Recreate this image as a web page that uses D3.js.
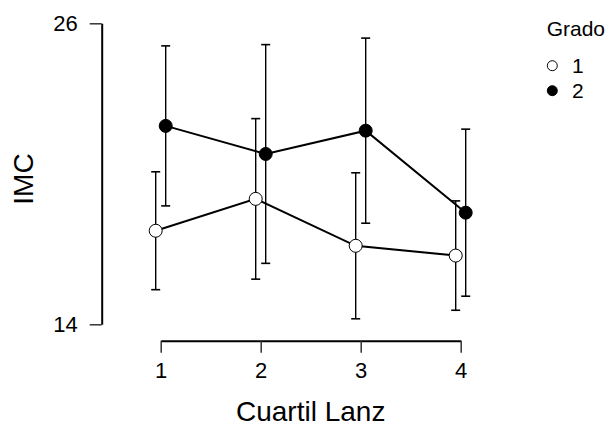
<!DOCTYPE html>
<html>
<head>
<meta charset="utf-8">
<script src="https://cdn.jsdelivr.net/npm/d3@7"></script>
<style>
  body { margin: 0; background: #fff; }
  svg { font-family: "Liberation Sans", Arial, sans-serif; }
</style>
</head>
<body>
<div id="chart"></div>
<script>
const width = 615
const height = 429

// data
const cuartiles = [1, 2, 3, 4]
const grados = ["1", "2"]
const grado1Mean = [17.73, 19.0, 17.13, 16.74]
const grado1Err = [2.35, 3.2, 2.91, 2.18]
const grado2Mean = [21.91, 20.79, 21.72, 18.45]
const grado2Err = [3.19, 4.36, 3.69, 3.33]
const yTicks = [14, 26]

const series = [
    { grado: grados[0], mean: grado1Mean, err: grado1Err, fill: "white", dodge: -5 },
    { grado: grados[1], mean: grado2Mean, err: grado2Err, fill: "black", dodge: 5 }
]

const svg = d3.select("div#chart").append("svg").attr("width", width).attr("height", height)

const x = d3.scaleLinear().domain([1, 4]).range([160.7, 460.7])
const y = d3.scaleLinear().domain([14, 26]).range([324.3, 23.3])

// axes
const yAxisGroup = svg.append("g").attr("transform", "translate(101.7, 0)")
    .call(d3.axisLeft(y).tickValues(yTicks).tickFormat(d3.format("d")).tickSize(12).tickSizeOuter(0).tickPadding(12))
const xAxisGroup = svg.append("g").attr("transform", "translate(0, 340.7)")
    .call(d3.axisBottom(x).tickValues(cuartiles).tickFormat(d3.format("d")).tickSize(12).tickSizeOuter(0).tickPadding(10))

svg.selectAll(".domain").attr("stroke", "black").attr("stroke-width", 2)
svg.selectAll(".tick line").attr("stroke", "#333").attr("stroke-width", 1.5)
svg.selectAll(".tick text").attr("font-size", 22).attr("fill", "black")
    .attr("font-family", "'Liberation Sans', Arial, sans-serif")

svg.append("text").attr("x", 310.7).attr("y", 421).attr("text-anchor", "middle")
    .attr("font-size", 28).text("Cuartil Lanz")
svg.append("text").attr("transform", "translate(33, 179) rotate(-90)").attr("text-anchor", "middle")
    .attr("font-size", 28).text("IMC")

const elementGroup = svg.append("g")

const lineFunc = d3.line()

series.forEach(s => {
    const pts = cuartiles.map((c, i) => ({ c: c, m: s.mean[i], e: s.err[i] }))
    const g = elementGroup.append("g")

    // error bars
    pts.forEach(p => {
        const cx = x(p.c) + s.dodge
        g.append("line").attr("x1", cx).attr("x2", cx).attr("y1", y(p.m - p.e)).attr("y2", y(p.m + p.e))
            .attr("stroke", "black").attr("stroke-width", 1.4)
        g.append("line").attr("x1", cx - 4.5).attr("x2", cx + 4.5).attr("y1", y(p.m + p.e)).attr("y2", y(p.m + p.e))
            .attr("stroke", "black").attr("stroke-width", 1.6)
        g.append("line").attr("x1", cx - 4.5).attr("x2", cx + 4.5).attr("y1", y(p.m - p.e)).attr("y2", y(p.m - p.e))
            .attr("stroke", "black").attr("stroke-width", 1.6)
    })

    g.append("path")
        .attr("d", lineFunc(pts.map(p => [x(p.c) + s.dodge, y(p.m)])))
        .attr("stroke", "black")
        .attr("stroke-width", 2)
        .attr("fill", "none")

    g.selectAll("circle").data(pts).enter().append("circle")
        .attr("cx", p => x(p.c) + s.dodge)
        .attr("cy", p => y(p.m))
        .attr("r", 6.5)
        .attr("fill", s.fill)
        .attr("stroke", "black")
        .attr("stroke-width", 1)
})

// legend
const legend = svg.append("g")
legend.append("text").attr("x", 546.7).attr("y", 35.5).attr("font-size", 21).text("Grado")
series.forEach((s, i) => {
    const ly = 65.7 + i * 25
    legend.append("circle").attr("cx", 552.3).attr("cy", ly).attr("r", 5)
        .attr("fill", s.fill).attr("stroke", "black").attr("stroke-width", 1)
    legend.append("text").attr("x", 572).attr("y", ly + 7.5).attr("font-size", 21).text(s.grado)
})
</script>
</body>
</html>
